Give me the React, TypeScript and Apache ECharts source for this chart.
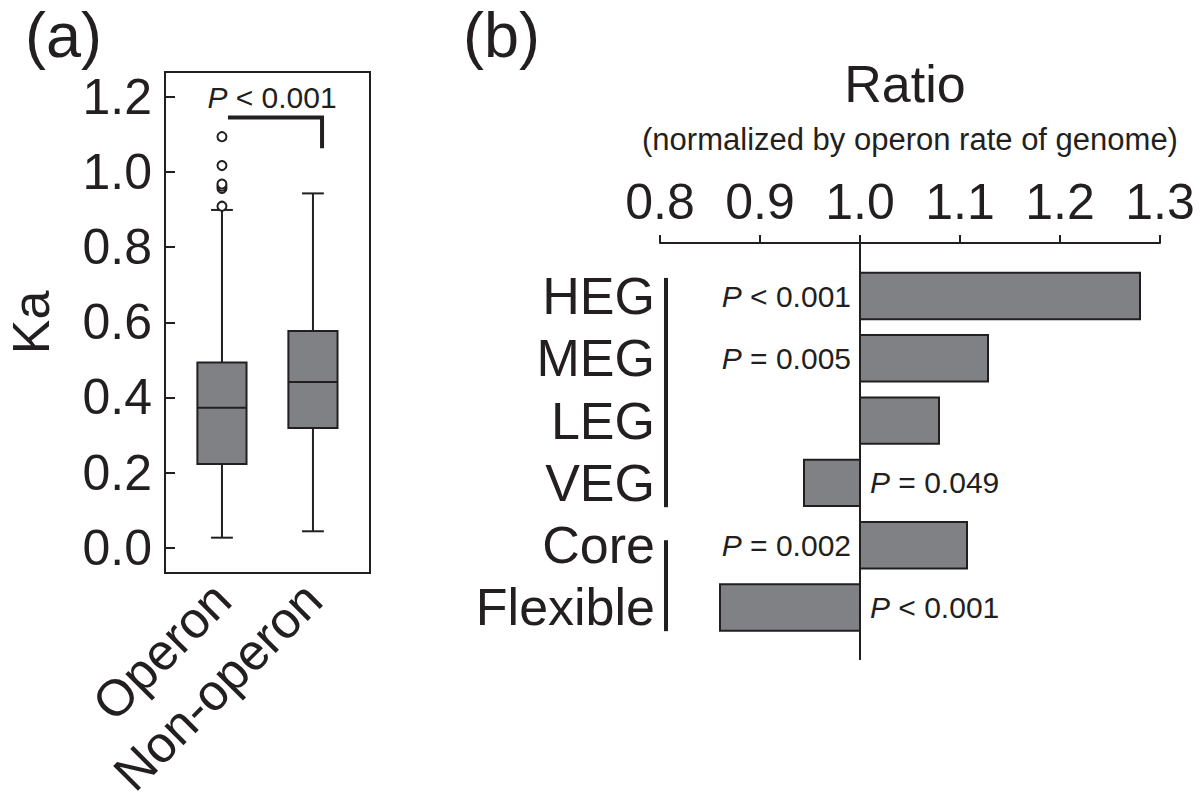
import React, { useEffect, useRef } from "react";
import * as echarts from "echarts";

// ---------- Panel (a): Ka box plots ----------
const groups = ["Operon", "Non-operon"];
const groupPos = [1, 2];
const whiskerLow = [0.027, 0.044];
const q1 = [0.223, 0.319];
const median = [0.3725, 0.441];
const q3 = [0.493, 0.577];
const whiskerHigh = [0.899, 0.943];
const operonOutliers = [0.909, 0.956, 0.962, 0.968, 1.017, 1.094];
const kaTicks = [0, 0.2, 0.4, 0.6, 0.8, 1.0, 1.2];
const kaPText = "< 0.001";

// ---------- Panel (b): ratio bars ----------
const categories = ["HEG", "MEG", "LEG", "VEG", "Core", "Flexible"];
const ratios = [1.28, 1.128, 1.079, 0.944, 1.107, 0.86];
const pLabels = ["< 0.001", "= 0.005", "", "= 0.049", "= 0.002", "< 0.001"];
const ratioTicks = [0.8, 0.9, 1.0, 1.1, 1.2, 1.3];
const REF = 1.0;
const bracketGroups = [
  [-0.29, 3.39],
  [3.92, 5.38],
];

const INK = "#231f20";
const BAR_FILL = "#808184";
const FONT = "'Liberation Sans', Arial, Helvetica, sans-serif";

const A_XMIN = 0.374;
const A_XMAX = 2.627;
const A_YMIN = -0.067;
const A_YMAX = 1.266;
const B_YMIN = -0.851;
const B_YMAX = 5.843;
const BOX_W = 0.54;
const CAP_W = 0.24;

export default function App() {
  const ref = useRef<HTMLDivElement>(null);

  useEffect(() => {
    document.body.style.margin = "0";
    const chart = echarts.init(ref.current!, null, { renderer: "svg" });

    const boxData = groupPos.map((p, i) => [p, whiskerLow[i], q1[i], median[i], q3[i], whiskerHigh[i]]);

    const option: any = {
      animation: false,
      backgroundColor: "#ffffff",
      textStyle: { fontFamily: FONT, color: INK },
      grid: [
        {
          left: 165, top: 72, width: 205, height: 501,
          show: true, borderColor: INK, borderWidth: 2, backgroundColor: "transparent",
          outerBoundsMode: "none",
        },
        { left: 660, top: 243, width: 500, height: 417, outerBoundsMode: "none" },
      ],
      xAxis: [
        {
          gridIndex: 0, type: "value", min: A_XMIN, max: A_XMAX,
          axisLine: { show: false, onZero: false }, axisTick: { show: false }, splitLine: { show: false },
          axisLabel: {
            customValues: groupPos,
            formatter: (v: number) => groups[groupPos.indexOf(Math.round(v))] ?? "",
            rotate: 45, fontSize: 51, margin: 18, color: INK, fontFamily: FONT,
          },
        },
        {
          gridIndex: 1, type: "value", position: "top", min: 0.8, max: 1.3,
          axisLine: { show: true, onZero: false, lineStyle: { color: INK, width: 2 } },
          axisTick: { show: true, customValues: ratioTicks, length: 8, lineStyle: { color: INK, width: 2 } },
          splitLine: { show: false },
          axisLabel: {
            customValues: ratioTicks,
            formatter: (v: number) => v.toFixed(1),
            fontSize: 50, margin: 16, color: INK, fontFamily: FONT,
          },
        },
      ],
      yAxis: [
        {
          gridIndex: 0, type: "value", min: A_YMIN, max: A_YMAX,
          axisLine: { show: false, onZero: false }, splitLine: { show: false },
          axisTick: { show: true, inside: true, length: 10, customValues: kaTicks, lineStyle: { color: INK, width: 2 } },
          axisLabel: {
            customValues: kaTicks,
            formatter: (v: number) => v.toFixed(1),
            fontSize: 50, margin: 13, color: INK, fontFamily: FONT,
          },
          name: "Ka", nameLocation: "middle", nameGap: 108,
          nameTextStyle: { fontSize: 52, color: INK, fontFamily: FONT },
        },
        {
          gridIndex: 1, type: "value", inverse: true, min: B_YMIN, max: B_YMAX,
          axisLine: { show: false, onZero: false }, axisTick: { show: false }, splitLine: { show: false },
          axisLabel: {
            customValues: categories.map((_, i) => i),
            formatter: (v: number) => categories[Math.round(v)] ?? "",
            fontSize: 52, margin: 5, color: INK, fontFamily: FONT,
          },
        },
      ],
      series: [
        {
          type: "custom", name: "Ka box", xAxisIndex: 0, yAxisIndex: 0,
          data: boxData, encode: { x: 0, y: [1, 2, 3, 4, 5] },
          renderItem: (params: any, api: any) => {
            const x = api.value(0);
            const pLow = api.coord([x, api.value(1)]);
            const pQ1 = api.coord([x, api.value(2)]);
            const pMed = api.coord([x, api.value(3)]);
            const pQ3 = api.coord([x, api.value(4)]);
            const pHigh = api.coord([x, api.value(5)]);
            const hw = api.size([BOX_W, 0])[0] / 2;
            const cw = api.size([CAP_W, 0])[0] / 2;
            const ls = { stroke: INK, lineWidth: 2 };
            return {
              type: "group",
              children: [
                { type: "line", shape: { x1: pLow[0], y1: pLow[1], x2: pQ1[0], y2: pQ1[1] }, style: ls },
                { type: "line", shape: { x1: pQ3[0], y1: pQ3[1], x2: pHigh[0], y2: pHigh[1] }, style: ls },
                { type: "line", shape: { x1: pLow[0] - cw, y1: pLow[1], x2: pLow[0] + cw, y2: pLow[1] }, style: ls },
                { type: "line", shape: { x1: pHigh[0] - cw, y1: pHigh[1], x2: pHigh[0] + cw, y2: pHigh[1] }, style: ls },
                {
                  type: "rect",
                  shape: { x: pQ3[0] - hw, y: pQ3[1], width: hw * 2, height: pQ1[1] - pQ3[1] },
                  style: { fill: BAR_FILL, stroke: INK, lineWidth: 2 },
                },
                { type: "line", shape: { x1: pMed[0] - hw, y1: pMed[1], x2: pMed[0] + hw, y2: pMed[1] }, style: ls },
              ],
            };
          },
          z: 2,
        },
        {
          type: "scatter", name: "Outliers", xAxisIndex: 0, yAxisIndex: 0,
          data: operonOutliers.map((v) => [groupPos[0], v]),
          symbol: "circle", symbolSize: 9,
          itemStyle: { color: "#ffffff", borderColor: INK, borderWidth: 2, opacity: 1 },
          z: 3,
        },
        {
          type: "custom", name: "Ratio", xAxisIndex: 1, yAxisIndex: 1,
          data: ratios.map((v, i) => [v, i]), encode: { x: 0, y: 1 },
          renderItem: (params: any, api: any) => {
            const i = params.dataIndex;
            const v = api.value(0);
            const yv = api.value(1);
            const a = api.coord([REF, yv]);
            const b = api.coord([v, yv]);
            const h = api.size([0, 1])[1] * 0.745;
            const children: any[] = [
              {
                type: "rect",
                shape: { x: Math.min(a[0], b[0]), y: a[1] - h / 2, width: Math.abs(b[0] - a[0]), height: h },
                style: { fill: BAR_FILL, stroke: INK, lineWidth: 2 },
              },
            ];
            if (pLabels[i]) {
              const left = v >= REF;
              children.push({
                type: "text",
                x: left ? a[0] - 9 : a[0] + 10,
                y: a[1],
                style: {
                  text: "{i|P} " + pLabels[i],
                  rich: { i: { fontStyle: "italic", fontSize: 30, fontFamily: FONT, fill: INK } },
                  fontSize: 30, fontFamily: FONT, fill: INK,
                  align: left ? "right" : "left", verticalAlign: "middle",
                },
              });
            }
            return { type: "group", children };
          },
          z: 2,
        },
        {
          type: "line", name: "Reference", xAxisIndex: 1, yAxisIndex: 1,
          data: [[REF, B_YMIN], [REF, B_YMAX]],
          symbol: "none", lineStyle: { color: INK, width: 2 }, z: 3,
        },
      ],
    };

    chart.setOption(option);

    const pa = (p: number[]) => chart.convertToPixel({ gridIndex: 0 }, p) as number[];
    const pb = (p: number[]) => chart.convertToPixel({ gridIndex: 1 }, p) as number[];

    const sL = pa([1.066, 1.145]);
    const sR = pa([2.1, 1.145]);
    const sD = pa([2.1, 1.063]);
    const sT = pa([1.55, 1.197]);

    const graphic: any[] = [
      { type: "text", left: 25, top: 3, style: { text: "(a)", fontSize: 63, fontFamily: FONT, fill: INK } },
      { type: "text", left: 463, top: 3, style: { text: "(b)", fontSize: 63, fontFamily: FONT, fill: INK } },
      {
        type: "text", x: 905, y: 84,
        style: { text: "Ratio", fontSize: 52, fontFamily: FONT, fill: INK, align: "center", verticalAlign: "middle" },
      },
      {
        type: "text", x: 910, y: 139,
        style: {
          text: "(normalized by operon rate of genome)", fontSize: 31, fontFamily: FONT, fill: INK,
          align: "center", verticalAlign: "middle",
        },
      },
      {
        type: "polyline",
        shape: { points: [sL, sR, sD] },
        style: { stroke: INK, lineWidth: 4, fill: "none" },
      },
      {
        type: "text", x: sT[0], y: sT[1],
        style: {
          text: "{i|P} " + kaPText,
          rich: { i: { fontStyle: "italic", fontSize: 30, fontFamily: FONT, fill: INK } },
          fontSize: 30, fontFamily: FONT, fill: INK, align: "center", verticalAlign: "middle",
        },
      },
    ];
    bracketGroups.forEach(([t, btm]) => {
      const p1 = pb([0.806, t]);
      const p2 = pb([0.806, btm]);
      graphic.push({
        type: "line",
        shape: { x1: p1[0], y1: p1[1], x2: p2[0], y2: p2[1] },
        style: { stroke: INK, lineWidth: 4 },
      });
    });

    chart.setOption({ graphic });

    return () => chart.dispose();
  }, []);

  return <div ref={ref} style={{ width: 1200, height: 811 }} />;
}
